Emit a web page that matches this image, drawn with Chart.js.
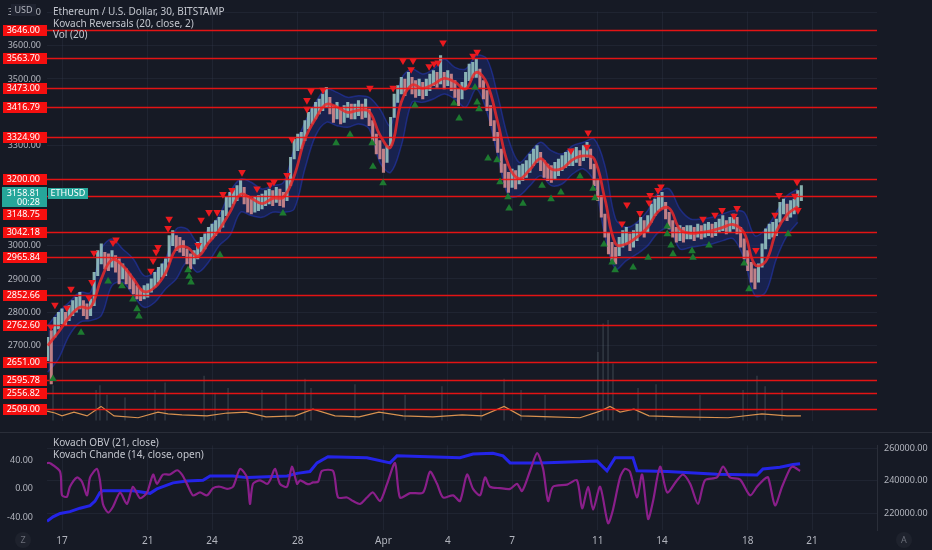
<!DOCTYPE html>
<html>
<head>
<meta charset="utf-8">
<script src="https://cdn.jsdelivr.net/npm/chart.js@4.4.1/dist/chart.umd.min.js"></script>
<style>
body { margin: 0; background: #161a25; width: 932px; height: 550px; overflow: hidden; position: relative; font-family: 'Noto Sans', sans-serif; }
#main { position: absolute; left: 0; top: 0; }
#lower { position: absolute; left: 0; top: 433px; }
.sep { position: absolute; left: 0; top: 432px; width: 932px; height: 1px; background: #2a2e39; }
.legend { position: absolute; left: 53px; color: #c3c6ce; font-size: 10px; line-height: 11.5px; white-space: nowrap; }
.usd { position: absolute; left: 11px; top: 4px; width: 25px; height: 12px; background: #1f2330; color: #b2b5be; font-size: 9px; line-height: 12px; text-align: center; }
.badge { position: absolute; width: 16px; height: 16px; border-radius: 8px; background: #1e222d; color: #6b6f7a; font-size: 9px; text-align: center; line-height: 16px; }
</style>
</head>
<body>
<canvas id="main" width="932" height="432"></canvas>
<div class="sep"></div>
<canvas id="lower" width="932" height="117"></canvas>
<div class="legend" style="top:6px">Ethereum / U.S. Dollar, 30, BITSTAMP<br>Kovach Reversals (20, close, 2)<br>Vol (20)</div>
<div class="legend" style="top:437px">Kovach OBV (21, close)<br>Kovach Chande (14, close, open)</div>
<div class="usd">USD</div>
<div class="badge" style="left:15px;top:532px">Z</div>
<div class="badge" style="left:896px;top:532px">A</div>
<script>
// Data (day numbers: Mar 16 = 16 ... Apr 1 = 32)

// price bars, 4h each, from Mar 16 08:00
const startDay = 16.333;
const barStep = 1 / 6;
const barLow = [2655,2585,2725,2750,2765,2760,2775,2790,2800,2810,
    2790,2780,2790,2820,2910,2945,2930,2925,2935,2920,
    2885,2900,2885,2870,2855,2840,2835,2840,2845,2860,
    2875,2890,2905,2910,2950,3000,2985,2980,2970,2945,
    2930,2945,2960,2980,2990,3010,3020,3030,3040,3055,
    3090,3115,3125,3135,3150,3125,3100,3095,3100,3105,
    3110,3120,3125,3120,3130,3120,3115,3135,3180,3260,
    3285,3290,3315,3350,3365,3380,3395,3405,3415,3395,
    3370,3380,3365,3370,3385,3380,3380,3390,3380,3385,
    3360,3310,3275,3260,3220,3250,3300,3385,3430,3455,
    3450,3470,3455,3445,3450,3440,3450,3465,3480,3475,
    3485,3470,3480,3465,3445,3420,3440,3470,3495,3505,
    3505,3475,3440,3405,3360,3315,3280,3220,3175,3160,
    3175,3170,3185,3195,3205,3220,3240,3250,3225,3205,
    3195,3190,3200,3210,3225,3235,3240,3240,3250,3240,
    3255,3265,3230,3180,3135,3085,3025,2975,2955,2945,
    2970,2995,3005,2985,2995,3015,3035,3025,3040,3070,
    3090,3105,3110,3080,3050,3025,3010,3015,3010,3020,
    3020,3015,3025,3020,3025,3030,3025,3030,3040,3045,
    3035,3040,3050,3035,2995,2960,2925,2890,2870,2890,
    2935,2990,3020,3025,3030,3070,3095,3075,3085,3095,
    3115,3135];
const barHigh = [2725,2745,2785,2800,2810,2800,2820,2835,2845,2860,
    2835,2825,2840,2920,2985,3005,2980,2975,2985,2970,
    2960,2945,2930,2915,2900,2880,2870,2880,2885,2900,
    2920,2935,2945,2960,3030,3045,3030,3025,3015,2990,
    2975,2985,3010,3025,3035,3055,3065,3075,3085,3105,
    3145,3160,3170,3180,3195,3175,3150,3140,3145,3150,
    3155,3165,3170,3165,3175,3170,3160,3200,3265,3320,
    3335,3340,3375,3400,3415,3430,3440,3455,3475,3445,
    3420,3430,3415,3420,3430,3425,3425,3435,3425,3440,
    3410,3375,3335,3315,3290,3300,3385,3455,3480,3505,
    3500,3520,3505,3495,3500,3490,3500,3515,3525,3520,
    3570,3520,3525,3515,3495,3470,3490,3520,3545,3550,
    3560,3530,3495,3465,3420,3375,3340,3290,3245,3220,
    3230,3225,3240,3245,3255,3275,3290,3300,3280,3255,
    3245,3240,3250,3260,3270,3280,3285,3290,3295,3285,
    3300,3310,3290,3245,3200,3150,3095,3040,3010,2995,
    3025,3045,3055,3035,3045,3065,3085,3075,3090,3125,
    3140,3150,3160,3130,3100,3075,3055,3060,3055,3060,
    3060,3055,3065,3060,3065,3070,3065,3070,3080,3090,
    3075,3085,3095,3085,3055,3020,2985,2950,2930,2945,
    3005,3050,3065,3070,3080,3130,3140,3125,3135,3140,
    3165,3180];
const lastPrice = 3158.81;

// Kovach Reversals basis and band, every 12h
const basisStep = 0.5;
const basis = [2700,2740,2785,2815,2815,2900,2958,2940,2900,2862,
    2875,2918,2990,2995,2968,3008,3047,3100,3154,3142,
    3126,3142,3145,3209,3319,3381,3424,3416,3400,3406,
    3403,3332,3295,3431,3482,3472,3484,3502,3491,3470,
    3520,3486,3370,3242,3201,3228,3261,3230,3231,3258,
    3269,3260,3140,3005,3005,3026,3055,3103,3112,3049,
    3037,3040,3045,3055,3063,3038,2943,2952,3042,3093,3117];
const bandLow = [2620,2660,2730,2770,2775,2790,2880,2890,2850,2815,
    2830,2870,2900,2950,2920,2950,3000,3030,3100,3090,
    3085,3100,3100,3110,3230,3330,3370,3360,3355,3365,
    3350,3250,3220,3300,3430,3430,3440,3455,3440,3415,
    3470,3400,3270,3150,3150,3180,3210,3180,3185,3215,
    3230,3190,3030,2930,2955,2975,3000,3040,3050,2990,
    2995,3000,3005,3015,3020,2960,2850,2860,2960,3030,3070];
const bandHigh = [2760,2800,2830,2860,2860,2990,3020,2990,2960,2910,
    2920,2960,3050,3050,3010,3050,3090,3160,3200,3190,
    3170,3180,3190,3290,3370,3430,3470,3460,3445,3450,
    3445,3410,3360,3500,3530,3515,3530,3560,3535,3530,
    3570,3560,3450,3320,3250,3280,3310,3285,3275,3300,
    3310,3320,3240,3080,3055,3070,3105,3160,3170,3110,
    3080,3080,3085,3095,3105,3100,3030,3050,3100,3150,3170];

// reversal markers
const sellDays = [16.49,16.67,17.23,17.42,18.26,18.40,18.49,19.38,19.52,21.15,
    21.25,21.39,21.48,21.95,22.00,23.35,23.49,23.86,24.24,24.51,
    24.93,25.40,26.10,26.71,26.89,27.50,27.73,28.43,28.43,28.62,
    29.18,31.37,32.45,32.91,33.38,33.29,34.13,34.36,34.55,34.78,
    36.18,36.37,40.75,41.50,41.55,43.13,43.36,43.97,44.44,44.40,
    44.81,44.95,46.91,47.47,47.80,48.36,48.50,49.38,50.27,50.46,
    51.20,51.34,51.30];
const sellPrices = [2756,2822,2813,2870,2844,2890,2978,3009,3018,2924,
    2955,2981,2995,3052,3080,3001,3077,3100,3100,3154,
    3166,3220,3171,3183,3191,3211,3319,3436,3410,3464,
    3467,3473,3473,3555,3555,3529,3538,3546,3549,3609,
    3569,3581,3285,3296,3339,3066,3123,3097,3151,3129,
    3166,3177,3080,3092,3106,3089,3112,2986,3092,3151,
    3149,3106,3191];
const buyDays = [16.58,17.89,19.15,19.80,20.31,20.50,20.59,22.88,22.93,23.02,
    24.37,27.31,29.79,30.44,31.47,31.51,31.98,33.47,35.29,35.53,
    36.27,36.37,36.46,36.88,37.30,37.44,37.81,37.86,38.51,39.40,
    39.82,40.28,41.17,41.78,41.87,42.29,42.67,42.81,43.65,44.35,
    45.24,45.24,45.42,45.51,46.40,46.44,47.19,48.83,49.06,50.88];
const buyPrices = [2600,2739,2893,2879,2839,2810,2788,2927,2907,2890,
    2972,3097,3308,3333,3308,3237,3188,3421,3427,3382,
    3475,3430,3410,3262,3257,3191,3146,3112,3126,3180,
    3140,3160,3208,3171,3143,3004,2950,2927,2935,2964,
    3058,3035,3001,2975,2984,2964,3001,2947,2870,3035];

// horizontal levels
const levels = [3646.00,3563.70,3473.00,3416.79,3324.90,3200.00,3148.75,3042.18,
    2965.84,2852.66,2762.60,2651.00,2595.78,2556.82,2509.00];
const priceTicks = [3700,3600,3500,3300,3000,2900,2800,2700];

// volume
const volDays = [16.58,18.59,18.77,19.10,19.94,21.34,21.81,23.63,24.14,24.75,
    26.33,27.45,28.34,28.62,30.67,31.98,33.01,34.73,36.55,37.63,
    38.42,39.54,42.01,42.25,42.48,42.71,43.88,44.72,46.77,48.78,
    49.43,49.81,50.60];
const volValues = [3430,2960,3430,2500,2220,2960,3700,4350,2690,3150,
    2960,2600,4070,3150,3520,2780,2500,3330,2780,4070,
    2960,2500,6670,9450,9800,5560,3150,3520,2500,2960,
    4350,3330,2960];
const volMaDays = [16.30,16.67,17.00,17.56,18.17,18.82,19.43,20.55,21.48,21.95,
    22.60,23.77,24.70,25.59,26.52,27.87,28.71,29.74,30.86,31.79,
    32.91,34.31,35.67,36.60,37.63,38.42,39.82,41.17,42.11,42.57,
    43.04,43.69,44.39,45.79,48.08,49.66,50.83,51.48];
const volMaValues = [925,740,460,830,460,1390,460,280,830,650,
    555,460,740,830,370,460,1110,460,370,830,
    460,370,555,460,1390,460,370,280,925,1390,
    830,1110,460,370,280,650,460,460];

// lower pane
const obvDays = [16.30,16.58,16.91,17.37,17.84,18.31,18.54,18.77,18.91,20.31,
    21.11,21.43,22.18,22.83,23.58,23.91,24.98,25.63,27.50,27.97,
    28.57,28.90,29.41,31.23,32.31,32.63,35.57,36.18,37.11,37.58,
    37.91,39.31,41.97,42.43,42.81,43.64,43.83,45.24,47.56,49.43,
    49.71,50.50,51.11,51.44];
const obvValues = [215200,217900,220000,221100,223200,224800,227500,232800,233900,233900,
    232300,235000,238700,239800,240300,242900,242900,241900,242900,244500,
    245600,250900,254700,254100,250900,255200,254100,256300,256800,255200,
    250900,250900,252000,246100,254100,254100,246100,245600,244000,243500,
    247200,248300,249900,250400];
const chandeDays = [16.30,16.44,16.91,17.00,17.23,17.37,17.70,17.93,18.17,18.31,
    18.63,18.77,18.91,19.15,19.38,19.71,20.03,20.31,20.64,20.97,
    21.25,21.43,21.71,22.04,22.37,22.60,22.83,23.11,23.44,23.77,
    24.05,24.37,24.70,24.98,25.31,25.63,25.77,25.91,26.24,26.57,
    26.71,26.94,27.17,27.50,27.73,27.97,28.11,28.43,28.57,28.71,
    28.95,29.13,29.65,29.88,30.30,30.58,30.91,31.23,31.51,31.84,
    32.17,32.54,32.77,33.24,33.85,34.17,34.50,34.78,35.25,35.57,
    35.90,36.18,36.51,36.74,36.97,37.44,37.91,38.23,38.47,38.84,
    39.17,39.45,39.68,39.91,40.57,41.03,41.27,41.55,41.78,42.11,
    42.48,42.71,43.04,43.27,43.50,43.83,44.07,44.35,44.58,44.91,
    45.24,45.70,45.98,46.31,46.68,47.00,47.56,47.85,48.17,48.64,
    49.11,49.43,49.71,49.95,50.27,50.60,50.97,51.11,51.44];
const chandeValues = [36,36,24,-9,-11,3,16,10,-9,16,
    28,12,-21,-33,-25,-5,-21,3,-13,-5,
    20,7,20,20,26,20,7,-9,-5,-9,
    1,3,0,3,28,16,-21,7,12,7,
    12,28,7,3,31,7,12,7,7,9,
    10,25,25,-12,-12,-17,-21,-12,-5,-17,
    7,36,-12,-6,-5,24,7,-12,-9,-17,
    20,0,-9,16,3,1,0,7,-3,25,
    50,28,-17,3,6,12,-27,3,-29,3,
    -48,-29,16,28,24,-12,20,-42,-17,31,
    -5,12,20,7,-21,12,16,31,16,13,
    -9,3,12,16,-23,3,28,31,25];

// time axis
const tickDays = [17, 21, 24, 28, 32, 35, 38, 42, 45, 49, 52];
const tickLabels = ['17', '21', '24', '28', 'Apr', '4', '7', '11', '14', '18', '21'];

const dayMin = 16.30;
const dayMax = 55.03;

Chart.defaults.font.family = "'Noto Sans', sans-serif";
Chart.defaults.color = '#b2b5be';

const gridColor = 'rgba(54,60,78,0.3)';
const upColor = 'rgba(165,214,208,0.8)';
const downColor = 'rgba(234,152,150,0.8)';

const xy = (days, vals) => days.map((d, i) => ({ x: d, y: vals[i] }));
const stepped = (start, step, vals) => vals.map((v, i) => ({ x: start + i * step, y: v }));

// Main Pane
const candles = barLow.map((lo, i) => ({ x: startDay + i * barStep, y: [lo, barHigh[i]] }));
const candleColors = barLow.map((lo, i) => {
    if (i === 0) return upColor;
    return lo + barHigh[i] >= barLow[i - 1] + barHigh[i - 1] ? upColor : downColor;
});

const SELL_INDEX = 6;

const levelPlugin = {
    id: 'levels',
    beforeDatasetDraw(chart, args) {
        if (args.index !== SELL_INDEX) return;
        const { ctx, chartArea, scales: { y } } = chart;
        ctx.save();
        ctx.strokeStyle = 'rgba(245,18,18,0.92)';
        ctx.lineWidth = 1.5;
        levels.forEach(v => {
            const py = Math.round(y.getPixelForValue(v)) + 0.5;
            ctx.beginPath();
            ctx.moveTo(chartArea.left, py);
            ctx.lineTo(chartArea.right, py);
            ctx.stroke();
        });
        ctx.restore();
    },
    afterDraw(chart) {
        const { ctx, scales: { y } } = chart;
        const curY = Math.round(y.getPixelForValue(lastPrice));
        ctx.save();
        ctx.font = '9px "Noto Sans"';
        ctx.textBaseline = 'middle';
        ctx.textAlign = 'right';
        levels.forEach(v => {
            let py = Math.round(y.getPixelForValue(v));
            // the live price tag wins, push the level tag under it
            if (py > curY - 10 && py < curY + 16) py = curY + 21;
            ctx.fillStyle = '#f50f0f';
            ctx.fillRect(3, py - 5, 44, 11);
            ctx.fillStyle = '#ffffff';
            ctx.fillText(v.toFixed(2), 40, py + 0.5);
        });
        // live price tag
        ctx.fillStyle = '#26a69a';
        ctx.fillRect(2, curY - 6, 45, 20);
        ctx.fillRect(48, curY - 5, 40, 11);
        ctx.fillStyle = '#ffffff';
        ctx.fillText(lastPrice.toFixed(2), 40, curY);
        ctx.fillText('00:28', 40, curY + 9);
        ctx.textAlign = 'center';
        ctx.fillText('ETHUSD', 68, curY + 0.5);
        ctx.restore();
    }
};

new Chart(document.getElementById('main'), {
    type: 'bar',
    data: {
        datasets: [{
            type: 'scatter',
            data: xy(buyDays, buyPrices),
            pointStyle: 'triangle',
            pointRadius: 4.4,
            pointBackgroundColor: '#1d7a30',
            pointBorderWidth: 0,
            order: 0
        }, {
            type: 'line',
            data: stepped(startDay, basisStep, bandHigh),
            borderColor: 'rgba(40,62,215,0.45)',
            borderWidth: 1.5,
            backgroundColor: 'rgba(30,52,175,0.3)',
            fill: '+1',
            pointRadius: 0,
            tension: 0.35,
            order: 7
        }, {
            type: 'line',
            data: stepped(startDay, basisStep, bandLow),
            borderColor: 'rgba(40,62,215,0.45)',
            borderWidth: 1.5,
            fill: false,
            pointRadius: 0,
            tension: 0.35,
            order: 6
        }, {
            type: 'bar',
            data: xy(volDays, volValues),
            yAxisID: 'yv',
            backgroundColor: 'rgba(120,135,145,0.25)',
            barThickness: 1,
            grouped: false,
            order: 5
        }, {
            type: 'line',
            data: xy(volMaDays, volMaValues),
            yAxisID: 'yv',
            borderColor: '#d8914f',
            borderWidth: 1.2,
            pointRadius: 0,
            order: 4
        }, {
            type: 'bar',
            data: candles,
            backgroundColor: candleColors,
            barThickness: 2.4,
            grouped: false,
            order: 3
        }, {
            type: 'scatter',
            data: xy(sellDays, sellPrices),
            pointStyle: 'triangle',
            pointRotation: 180,
            pointRadius: 4.4,
            pointBackgroundColor: '#ea1a1f',
            pointBorderWidth: 0,
            order: 1
        }, {
            type: 'line',
            data: stepped(startDay, basisStep, basis),
            borderColor: 'rgba(232,42,42,0.85)',
            borderWidth: 2.8,
            pointRadius: 0,
            tension: 0.4,
            order: 2
        }]
    },
    options: {
        responsive: false,
        animation: false,
        layout: { autoPadding: false, padding: { left: 0, right: 55, top: 0, bottom: 0 } },
        plugins: { legend: { display: false }, tooltip: { enabled: false } },
        scales: {
            x: {
                type: 'linear',
                offset: false,
                min: dayMin,
                max: dayMax,
                afterBuildTicks: s => { s.ticks = tickDays.map(v => ({ value: v })); },
                afterFit: s => { s.height = 0; },
                ticks: { display: false },
                grid: { color: gridColor, drawTicks: false, offset: false },
                border: { display: false }
            },
            y: {
                position: 'left',
                min: 2474.9,
                max: 3702.85,
                afterBuildTicks: s => { s.ticks = priceTicks.map(v => ({ value: v })); },
                afterFit: s => { s.width = 47; },
                ticks: {
                    padding: 6,
                    font: { size: 9 },
                    color: '#b2b5be',
                    callback: v => v.toFixed(2)
                },
                grid: { color: gridColor, drawTicks: false },
                border: { display: false }
            },
            yv: {
                display: false,
                min: 0,
                max: 40000
            }
        }
    },
    plugins: [levelPlugin]
});

// Oscillator Pane
new Chart(document.getElementById('lower'), {
    type: 'line',
    data: {
        datasets: [{
            data: xy(chandeDays, chandeValues),
            yAxisID: 'y',
            borderColor: '#8a1f8a',
            borderWidth: 2.2,
            pointRadius: 0,
            tension: 0.25
        }, {
            data: xy(obvDays, obvValues),
            yAxisID: 'y2',
            borderColor: '#2424e8',
            borderWidth: 3,
            pointRadius: 0,
            tension: 0
        }]
    },
    options: {
        responsive: false,
        animation: false,
        layout: { autoPadding: false, padding: 0 },
        plugins: { legend: { display: false }, tooltip: { enabled: false } },
        scales: {
            x: {
                type: 'linear',
                min: dayMin,
                max: dayMax,
                afterBuildTicks: s => { s.ticks = tickDays.map(v => ({ value: v })); },
                afterFit: s => { s.height = 20; },
                ticks: {
                    padding: 5,
                    font: { size: 10 },
                    color: '#b2b5be',
                    maxRotation: 0,
                    autoSkip: false,
                    callback: v => tickLabels[tickDays.indexOf(v)]
                },
                grid: { color: gridColor, drawTicks: false },
                border: { display: false }
            },
            y: {
                position: 'left',
                min: -57.4,
                max: 60.7,
                afterBuildTicks: s => { s.ticks = [40, 0, -40].map(v => ({ value: v })); },
                afterFit: s => { s.width = 47; },
                ticks: { padding: 6, font: { size: 9 }, color: '#b2b5be', callback: v => v.toFixed(2) },
                grid: { display: false },
                border: { display: false }
            },
            y2: {
                position: 'right',
                min: 209870,
                max: 261600,
                afterBuildTicks: s => { s.ticks = [260000, 240000, 220000].map(v => ({ value: v })); },
                afterFit: s => { s.width = 55; },
                ticks: { padding: 7, font: { size: 9 }, color: '#b2b5be', callback: v => v.toFixed(2) },
                grid: { color: gridColor, drawTicks: false },
                border: { display: true, color: '#2a2e39' }
            }
        }
    }
});
</script>
</body>
</html>
